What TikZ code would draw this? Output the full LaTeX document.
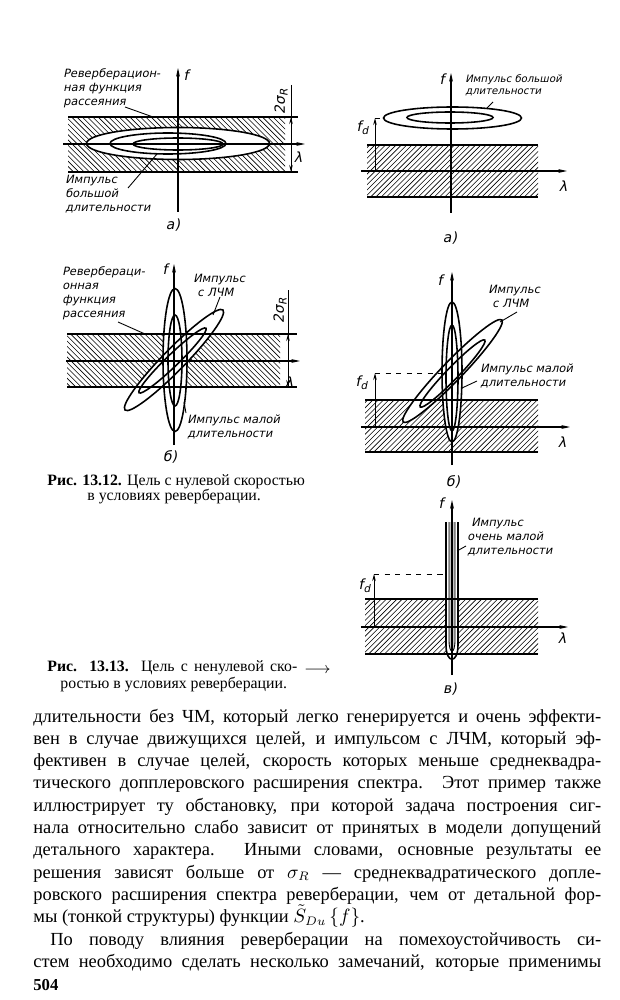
\documentclass[tikz,border=0pt]{standalone}
\usepackage{fontspec}
\setmainfont{Liberation Serif}
\newfontfamily\drawfont{DejaVu Sans}[FakeSlant=0.2]
\usepackage{amsmath}
\usetikzlibrary{arrows.meta, positioning}

\tikzset{>={Stealth[length=5pt,width=2.2pt]}}

% hatched band, "\" and "/" strokes
\newcommand{\hatchNW}[4]{%
  \begin{scope}
    \clip (#1,#2) rectangle (#3,#4);
    \foreach \hx in {-60,-54.7,...,260}
      \draw[hatch] ({#1+\hx},#2) -- ++({#4-#2},{#4-#2});
  \end{scope}}
\newcommand{\hatchNE}[4]{%
  \begin{scope}
    \clip (#1,#2) rectangle (#3,#4);
    \foreach \hx in {-60,-54.7,...,260}
      \draw[hatch] ({#1+\hx},#4) -- ++({#4-#2},{#2-#4});
  \end{scope}}

\begin{document}
\begin{tikzpicture}[x=0.02cm, y=-0.02cm,
  axis/.style={->, line width=0.6pt},
  bandline/.style={line width=1.1pt},
  hatch/.style={line width=0.35pt},
  pulse/.style={line width=0.9pt},
  leader/.style={line width=0.5pt},
  dimline/.style={line width=0.5pt},
  dimarrow/.style={-{Stealth[length=4pt,width=2pt]}, line width=0.5pt},
  lbl/.style={font=\drawfont\fontsize{6.5}{8}\selectfont, inner sep=0pt, align=left, anchor=north west},
  lblsm/.style={lbl, font=\drawfont\fontsize{5.8}{6.8}\selectfont},
  axlbl/.style={font=\drawfont\fontsize{8}{9}\selectfont, inner sep=0pt},
  capt/.style={font=\fontsize{9}{11}\selectfont, inner sep=0pt, anchor=base west},
  body/.style={font=\fontsize{10.5}{12}\selectfont, inner sep=0pt, anchor=base west}]

\fill[white] (0,0) rectangle (619,1000);
\useasboundingbox (0,0) rectangle (619,1000);

% ---------- Fig. 13.12 a)
\hatchNW{68}{117}{285}{172}
\fill[white] (178,143.5) ellipse [x radius=91.5, y radius=16];
\draw[bandline] (68,117) -- (298,117);
\draw[bandline] (68,172) -- (298,172);
\draw[axis] (63,144) -- (305,144);
\draw[axis] (178,212) -- (178,68);
\draw[pulse] (178,143.5) ellipse [x radius=91.5, y radius=16];
\draw[pulse] (168,143.5) ellipse [x radius=58, y radius=10.5];
\draw[pulse] (178,144) ellipse [x radius=45, y radius=6];
% 2 sigma_R
\draw[dimline] (291,85) -- (291,172);
\draw[dimarrow] (291,135) -- (291,117);
\draw[dimarrow] (291,155) -- (291,172);
\node[axlbl, rotate=90] (sigA) at (281,101) {2σ\textsubscript{R}};
\node[axlbl] (fA) at (186,75) {f};
\node[axlbl] (lamA) at (298,157) {λ};
\node[lbl] (reverbA) at (63,68.5) {Реверберацион-\\ная функция\\рассеяния};
\node[lbl] (longA) at (65,174.5) {Импульс\\большой\\длительности};
\coordinate (ra1) at (125,107);
\coordinate (ra2) at (153,117);
\coordinate (la1) at (128,188);
\coordinate (la2) at (157,154);
\draw[leader] (ra1) -- (ra2);
\draw[leader] (la1) -- (la2);
\node[axlbl] (figA) at (173,225) {а)};

% ---------- Fig. 13.13 a)
\hatchNE{367}{145}{538}{197}
\draw[bandline] (367,145) -- (538,145);
\draw[bandline] (367,197) -- (538,197);
\draw[axis] (361,171) -- (567,171);
\draw[axis] (451,213) -- (451,73);
\draw[pulse] (452.5,118) ellipse [x radius=69, y radius=11];
\draw[pulse] (450,117.5) ellipse [x radius=43, y radius=5.5];
\draw[dimarrow] (375,171) -- (375,118);
\draw[dimline, dashed] (375,118) -- (383,118);
\node[axlbl] (fdB) at (363,128) {f\textsubscript{d}};
\node[axlbl] (fB) at (442,79) {f};
\node[axlbl] (lamB) at (563,186) {λ};
\node[lblsm] (longB) at (465,74) {Импульс большой\\длительности};
\coordinate (lb1) at (493,102);
\coordinate (lb2) at (487,108);
\draw[leader] (lb1) -- (lb2);
\node[axlbl] (figB) at (450,238) {а)};

% ---------- Fig. 13.12 b)
\hatchNW{67}{334}{280}{387}
\fill[white] (175,360) ellipse [x radius=12, y radius=71.5];
\fill[white, rotate around={45.6:(174,360)}] (174,360) ellipse [x radius=70, y radius=11];
\draw[bandline] (67,334) -- (297,334);
\draw[bandline] (67,387) -- (297,387);
\draw[axis] (66,361) -- (300,361);
\draw[axis] (174,445) -- (174,264);
\draw[pulse] (175,360) ellipse [x radius=12, y radius=71.5];
\draw[pulse] (175,360.5) ellipse [x radius=7, y radius=45.5];
\draw[pulse, rotate around={45.6:(174,360)}] (174,360) ellipse [x radius=70, y radius=11];
\draw[pulse, rotate around={44:(172.5,360.5)}] (172.5,360.5) ellipse [x radius=46.5, y radius=6];
\draw[dimline] (288,290) -- (288,387);
\draw[dimarrow] (288,350) -- (288,334);
\draw[dimarrow] (288,372) -- (288,387);
\node[axlbl, rotate=90] (sigC) at (280,310) {2σ\textsubscript{R}};
\node[axlbl] (fC) at (165,269) {f};
\node[axlbl] (lamC) at (289,382) {λ};
\node[lbl] (reverbC) at (62,266.5) {Ревербераци-\\онная\\функция\\рассеяния};
\node[lbl] (lfmC) at (193,273.5) {Импульс\\\hspace*{0.8mm}с ЛЧМ};
\node[lbl] (shortC) at (187,414.5) {Импульс малой\\длительности};
\coordinate (rc1) at (118,322);
\coordinate (rc2) at (145,334);
\coordinate (fc1) at (220,297);
\coordinate (fc2) at (213,315);
\coordinate (sc1) at (186,413);
\coordinate (sc2) at (184,402);
\draw[leader] (rc1) -- (rc2);
\draw[leader] (fc1) -- (fc2);
\draw[leader] (sc1) -- (sc2);
\node[axlbl] (figC) at (170,457) {б)};

% ---------- Fig. 13.13 b)
\hatchNE{365}{400}{538}{452}
\fill[white] (452,372) ellipse [x radius=10, y radius=70];
\fill[white, rotate around={46:(452.5,371)}] (452.5,371) ellipse [x radius=71, y radius=10];
\draw[bandline] (365,400) -- (538,400);
\draw[bandline] (365,452) -- (538,452);
\draw[axis] (361,427) -- (570,427);
\draw[axis] (452,465) -- (452,272);
\draw[pulse] (452,372) ellipse [x radius=10, y radius=70];
\draw[pulse] (452,378) ellipse [x radius=6, y radius=53];
\draw[pulse, rotate around={46:(452.5,371)}] (452.5,371) ellipse [x radius=71, y radius=10];
\draw[pulse, rotate around={46:(452.5,373.5)}] (452.5,373.5) ellipse [x radius=46.5, y radius=6];
\draw[dimarrow] (375,427) -- (375,373);
\draw[dimline, dashed] (375,373) -- (441,373);
\node[axlbl] (fdD) at (362,383) {f\textsubscript{d}};
\node[axlbl] (fD) at (440,280) {f};
\node[axlbl] (lamD) at (562,442) {λ};
\node[lbl] (lfmD) at (488,285) {Импульс\\\hspace*{0.8mm}с ЛЧМ};
\node[lbl] (shortD) at (480,363) {Импульс малой\\длительности};
\coordinate (fd1) at (517,312);
\coordinate (fd2) at (500,322);
\coordinate (sd1) at (477,381);
\coordinate (sd2) at (462,388);
\draw[leader] (fd1) -- (fd2);
\draw[leader] (sd1) -- (sd2);
\node[axlbl] (figD) at (453,482) {б)};

% ---------- Fig. 13.13 c)
\hatchNE{365}{599}{538}{654}
\fill[white] (446,522) -- (446,645) .. controls (446,664) and (458,664) .. (458,645) -- (458,522) -- cycle;
\fill[gray!45] (449,522) -- (449,640) .. controls (449,655) and (455,655) .. (455,640) -- (455,522) -- cycle;
\draw[bandline] (365,599) -- (538,599);
\draw[bandline] (365,654) -- (538,654);
\draw[axis] (361,627) -- (568,627);
\draw[pulse] (446,522) -- (446,645) .. controls (446,664) and (458,664) .. (458,645) -- (458,522);
\draw[line width=0.5pt] (449,522) -- (449,640) .. controls (449,655) and (455,655) .. (455,640) -- (455,522);
\draw[axis, line width=0.9pt] (452,675) -- (452,500);
\draw[dimarrow] (374,627) -- (374,574);
\draw[dimline, dashed] (374,574) -- (445,574);
\node[axlbl] (fdE) at (365,586) {f\textsubscript{d}};
\node[axlbl] (fE) at (441,503) {f};
\node[axlbl] (lamE) at (562,638) {λ};
\node[lbl] (shortE) at (467,518) {\hspace*{0.8mm}Импульс\\очень малой\\длительности};
\coordinate (se1) at (466,546);
\coordinate (se2) at (457,551);
\draw[leader] (se1) -- (se2);
\node[axlbl] (figE) at (450,689) {в)};

% ---------- captions
\node[capt] (cap12a) at (47,485) {\textbf{Рис. 13.12.} Цель с нулевой скоростью};
\node[capt] (cap12b) at (87,500.5) {в условиях реверберации.};
\node[capt] (cap13a) at (47,671) {\makebox[5.0cm][s]{\textbf{Рис. 13.13.} Цель с ненулевой ско-}};
\node[capt] (cap13b) at (60,688) {ростью в условиях реверберации.};
\node[capt] (cap13c) at (304,673) {$\longrightarrow$};

% ---------- page text
\node[body] (t1) at (33,722) {\makebox[11.36cm][s]{длительности без ЧМ, который легко генерируется и очень эффекти-}};
\node[body] (t2) at (33,744.3) {\makebox[11.36cm][s]{вен в случае движущихся целей, и импульсом с ЛЧМ, который эф-}};
\node[body] (t3) at (33,766.6) {\makebox[11.36cm][s]{фективен в случае целей, скорость которых меньше среднеквадра-}};
\node[body] (t4) at (33,788.9) {\makebox[11.36cm][s]{тического допплеровского расширения спектра. Этот пример также}};
\node[body] (t5) at (33,811.2) {\makebox[11.36cm][s]{иллюстрирует ту обстановку, при которой задача построения сиг-}};
\node[body] (t6) at (33,833.5) {\makebox[11.36cm][s]{нала относительно слабо зависит от принятых в модели допущений}};
\node[body] (t7) at (33,855.8) {\makebox[11.36cm][s]{детального характера. Иными словами, основные результаты ее}};
\node[body] (t8) at (33,878.1) {\makebox[11.36cm][s]{решения зависят больше от $\sigma_R$ — среднеквадратического допле-}};
\node[body] (t9) at (33,900.4) {\makebox[11.36cm][s]{ровского расширения спектра реверберации, чем от детальной фор-}};
\node[body] (t10) at (33,922.7) {мы (тонкой структуры) функции $\tilde{S}_{Du}\,\{f\}$.};
\node[body] (t11) at (50,945) {\makebox[11.02cm][s]{По поводу влияния реверберации на помехоустойчивость си-}};
\node[body] (t12) at (33,967.3) {\makebox[11.36cm][s]{стем необходимо сделать несколько замечаний, которые применимы}};
\node[body, font=\bfseries\fontsize{9.5}{11}\selectfont] (pg) at (33,990) {504};
\end{tikzpicture}
\end{document}
